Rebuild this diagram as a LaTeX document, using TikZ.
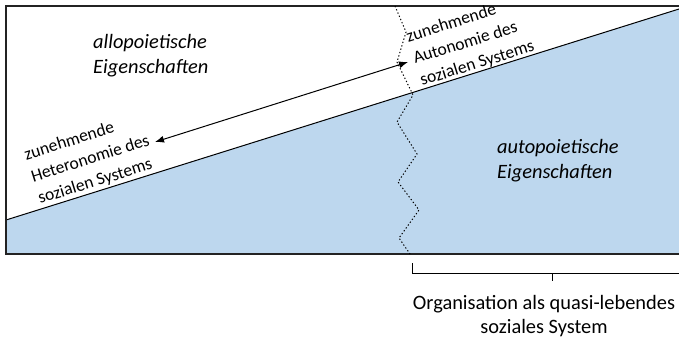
\documentclass[tikz,border=0pt]{standalone}
\usepackage{fontspec}
\setmainfont{Carlito}
\usetikzlibrary{arrows.meta}
\definecolor{autoblue}{RGB}{189,215,238}
\definecolor{framegray}{RGB}{35,35,35}
\begin{document}
\begin{tikzpicture}[x=1pt,y=-1pt,
  frameline/.style={draw=framegray, line width=1.4pt},
  slope/.style={draw=black, line width=1pt},
  border/.style={draw=black, line width=1pt, dash pattern=on 1.3pt off 2.2pt},
  bracketline/.style={draw=black, line width=1pt},
  arrowline/.style={draw=black, line width=1pt, {Latex[length=9pt,width=7pt]}-{Latex[length=9pt,width=7pt]}},
  prop/.style={font=\fontsize{20.4}{25}\selectfont\itshape, inner sep=0pt, anchor=base west, align=left},
  trend/.style={font=\fontsize{17.5}{23}\selectfont, inner sep=0pt, anchor=base west, align=left, rotate=17.4},
  caption/.style={font=\fontsize{20.4}{24}\selectfont, inner sep=0pt, anchor=base, align=center}]
\useasboundingbox (0,0) rectangle (679,338);

% autopoietic region below the slope
\fill[autoblue] (6,220) -- (679,9) -- (679,254) -- (6,254) -- cycle;
\draw[slope] (6,220) -- (679,9);

% frame
\draw[frameline] (679,6) -- (6,6) -- (6,254) -- (679,254);

% boundary of the quasi-living organisation
\draw[border] (395,6) -- (406,32) -- (397,62) -- (413,95) -- (397,122) -- (417,154)
  -- (398,182) -- (419,210) -- (399,238) -- (410,254);

% region labels (anchored at the baseline of the last line)
\node[prop] (allo) at (93,73) {allopoietische\\Eigenschaften};
\node[prop] (auto) at (497,178) {autopoietische\\Eigenschaften};

% direction of heteronomy / autonomy
\coordinate (hetend) at (155,142);
\coordinate (autend) at (408,62);
\draw[arrowline] (hetend) -- (autend);
\node[trend] (heter) at (40,204) {zunehmende\\Heteronomie des\\sozialen Systems};
\node[trend] (auton) at (422,86) {zunehmende\\Autonomie des\\sozialen Systems};

% bracket below the frame
\coordinate (bl) at (412,263);
\coordinate (bc) at (412,273);
\coordinate (br) at (679,273);
\coordinate (bm) at (552,273);
\coordinate (bt) at (552,281);
\draw[bracketline] (bl) -- (bc) -- (br);
\draw[bracketline] (bm) -- (bt);
\node[caption] (orgcap) at (544,333) {Organisation als quasi-lebendes\\soziales System};
\end{tikzpicture}
\end{document}
